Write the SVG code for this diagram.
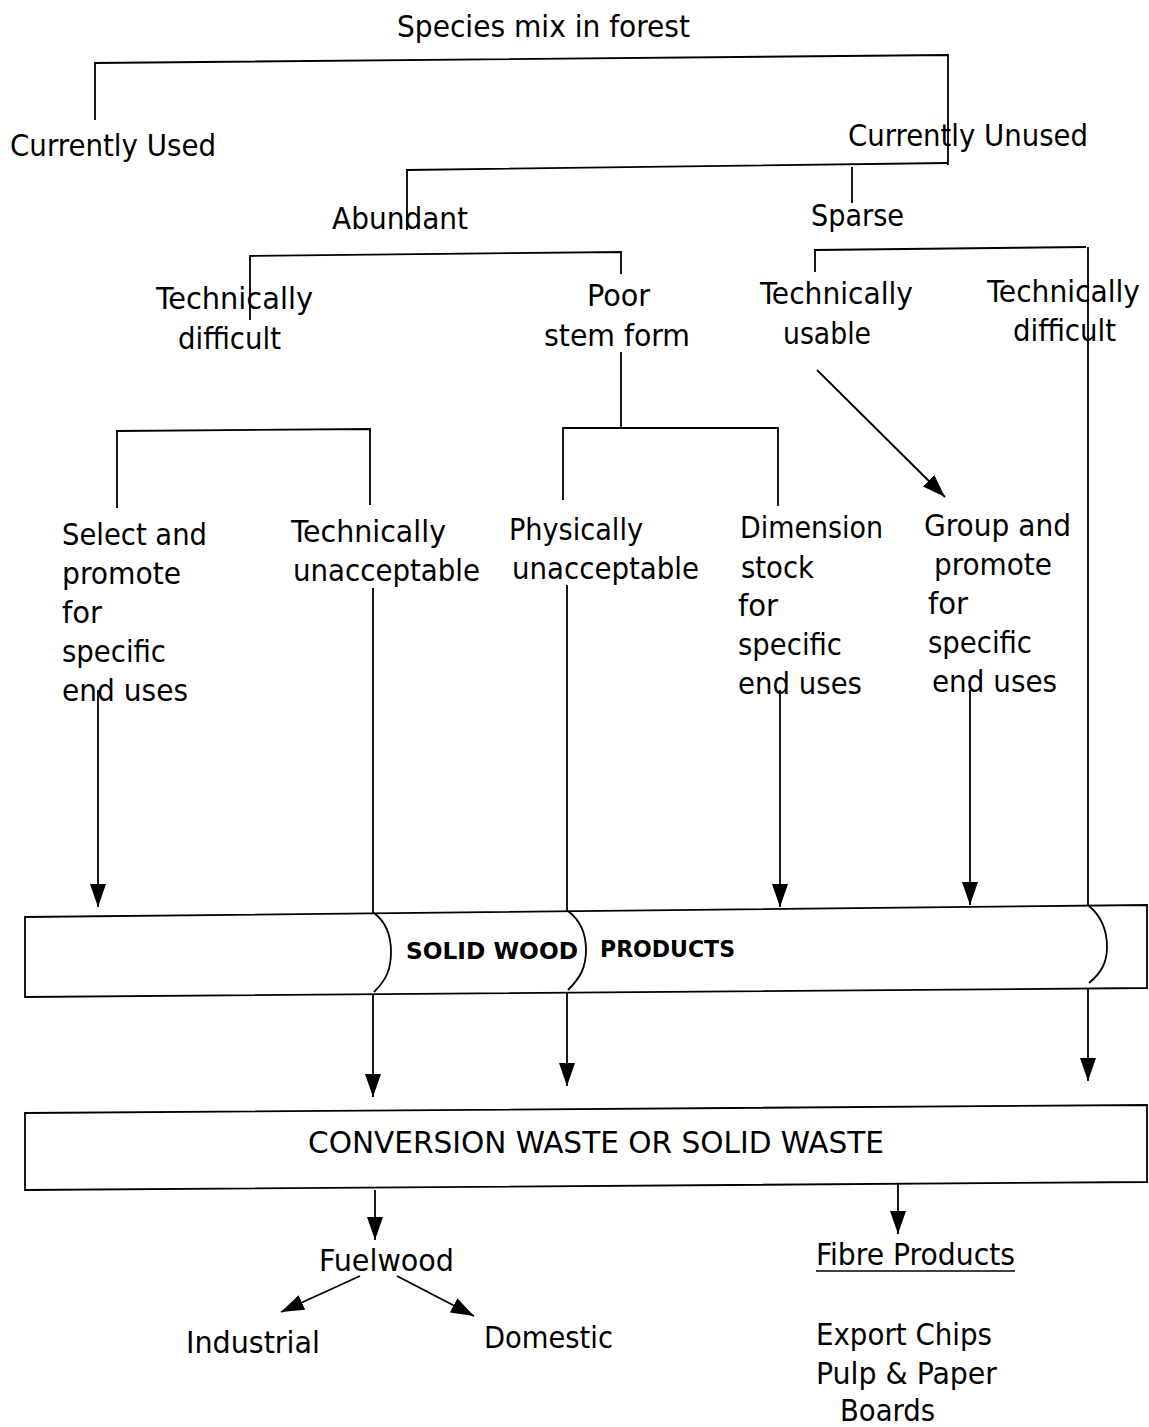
<svg xmlns="http://www.w3.org/2000/svg" width="1149" height="1427" viewBox="0 0 1149 1427">
<style>
text{font-family:"DejaVu Sans Condensed","DejaVu Sans",sans-serif;font-size:30px;fill:#000}
.b{font-weight:bold;font-size:23px}
.ln{stroke:#000;stroke-width:1.8;fill:none}
.box{stroke:#000;stroke-width:1.8;fill:#fff}
</style>
<defs>
<marker id="ah" viewBox="0 0 10 10" refX="10" refY="5" markerWidth="23" markerHeight="16" markerUnits="userSpaceOnUse" orient="auto" preserveAspectRatio="none">
<path d="M0,0 L10,5 L0,10 z" fill="#000"/>
</marker>
</defs>
<rect width="1149" height="1427" fill="#fff"/>

<g id="connectors">
<polyline class="ln" points="95,120 95,63 948,55 948,165"/>
<polyline class="ln" points="407,230 407,170 948,163"/>
<line class="ln" x1="852" y1="167" x2="852" y2="203"/>
<polyline class="ln" points="250,320 250,256 621,252 621,274"/>
<polyline class="ln" points="815,272 815,250 1086,247"/>
<line class="ln" x1="621" y1="352" x2="621" y2="428"/>
<polyline class="ln" points="563,500 563,428 778,428 778,506"/>
<polyline class="ln" points="117,508 117,431 370,429 370,505"/>
<line class="ln" x1="817" y1="370" x2="945" y2="497" marker-end="url(#ah)"/>
<line class="ln" x1="98" y1="690" x2="98" y2="907" marker-end="url(#ah)"/>
<line class="ln" x1="373" y1="588" x2="373" y2="1097" marker-end="url(#ah)"/>
<line class="ln" x1="567" y1="585" x2="567" y2="1086" marker-end="url(#ah)"/>
<line class="ln" x1="780" y1="690" x2="780" y2="907" marker-end="url(#ah)"/>
<line class="ln" x1="970" y1="690" x2="970" y2="905" marker-end="url(#ah)"/>
<line class="ln" x1="1088" y1="247" x2="1088" y2="1081" marker-end="url(#ah)"/>
<line class="ln" x1="375" y1="1190" x2="375" y2="1240" marker-end="url(#ah)"/>
<line class="ln" x1="898" y1="1182" x2="898" y2="1234" marker-end="url(#ah)"/>
<line class="ln" x1="360" y1="1276" x2="281" y2="1312" marker-end="url(#ah)"/>
<line class="ln" x1="397" y1="1276" x2="474" y2="1316" marker-end="url(#ah)"/>
</g>

<g id="species"><text x="397" y="37" textLength="293" lengthAdjust="spacingAndGlyphs">Species mix in forest</text></g>
<g id="used"><text x="10" y="156" textLength="206" lengthAdjust="spacingAndGlyphs">Currently Used</text></g>
<g id="unused"><text x="848" y="146" textLength="240" lengthAdjust="spacingAndGlyphs">Currently Unused</text></g>
<g id="abundant"><text x="332" y="229" textLength="136" lengthAdjust="spacingAndGlyphs">Abundant</text></g>
<g id="sparse"><text x="811" y="226" textLength="93" lengthAdjust="spacingAndGlyphs">Sparse</text></g>

<g id="techdiff1">
<text x="156" y="309" textLength="157" lengthAdjust="spacingAndGlyphs">Technically</text>
<text x="178" y="349" textLength="103" lengthAdjust="spacingAndGlyphs">difficult</text>
</g>
<g id="poor">
<text x="587" y="306" textLength="63" lengthAdjust="spacingAndGlyphs">Poor</text>
<text x="544" y="346" textLength="146" lengthAdjust="spacingAndGlyphs">stem form</text>
</g>
<g id="techusable">
<text x="760" y="304" textLength="153" lengthAdjust="spacingAndGlyphs">Technically</text>
<text x="783" y="344" textLength="88" lengthAdjust="spacingAndGlyphs">usable</text>
</g>
<g id="techdiff2">
<text x="987" y="302" textLength="153" lengthAdjust="spacingAndGlyphs">Technically</text>
<text x="1013" y="341" textLength="103" lengthAdjust="spacingAndGlyphs">difficult</text>
</g>

<g id="select">
<text x="62" y="545" textLength="145" lengthAdjust="spacingAndGlyphs">Select and</text>
<text x="62" y="584" textLength="119" lengthAdjust="spacingAndGlyphs">promote</text>
<text x="62" y="623" textLength="40" lengthAdjust="spacingAndGlyphs">for</text>
<text x="62" y="662" textLength="104" lengthAdjust="spacingAndGlyphs">specific</text>
<text x="62" y="701" textLength="126" lengthAdjust="spacingAndGlyphs">end uses</text>
</g>
<g id="techunacc">
<text x="291" y="542" textLength="155" lengthAdjust="spacingAndGlyphs">Technically</text>
<text x="293" y="581" textLength="187" lengthAdjust="spacingAndGlyphs">unacceptable</text>
</g>
<g id="physunacc">
<text x="509" y="540" textLength="134" lengthAdjust="spacingAndGlyphs">Physically</text>
<text x="512" y="579" textLength="187" lengthAdjust="spacingAndGlyphs">unacceptable</text>
</g>
<g id="dimension">
<text x="740" y="538" textLength="143" lengthAdjust="spacingAndGlyphs">Dimension</text>
<text x="741" y="578" textLength="73" lengthAdjust="spacingAndGlyphs">stock</text>
<text x="738" y="616" textLength="40" lengthAdjust="spacingAndGlyphs">for</text>
<text x="738" y="655" textLength="104" lengthAdjust="spacingAndGlyphs">specific</text>
<text x="738" y="694" textLength="124" lengthAdjust="spacingAndGlyphs">end uses</text>
</g>
<g id="group">
<text x="924" y="536" textLength="147" lengthAdjust="spacingAndGlyphs">Group and</text>
<text x="934" y="575" textLength="118" lengthAdjust="spacingAndGlyphs">promote</text>
<text x="928" y="614" textLength="40" lengthAdjust="spacingAndGlyphs">for</text>
<text x="928" y="653" textLength="104" lengthAdjust="spacingAndGlyphs">specific</text>
<text x="932" y="692" textLength="125" lengthAdjust="spacingAndGlyphs">end uses</text>
</g>

<g id="solidwood">
<polygon class="box" points="25,917 1147,905 1147,988 25,997"/>
<path class="ln" d="M374,913 C386,922 391,935 391,952 C391,970 386,980 374,992"/>
<path class="ln" d="M568,911 C580,920 586,932 586,950 C586,968 580,978 568,990"/>
<path class="ln" d="M1089,906 C1101,916 1107,930 1107,947 C1107,963 1101,973 1089,983"/>
<text class="b" x="406" y="959" textLength="172" lengthAdjust="spacingAndGlyphs">SOLID  WOOD</text>
<text class="b" x="600" y="957" textLength="135" lengthAdjust="spacingAndGlyphs">PRODUCTS</text>
</g>

<g id="conversion">
<polygon class="box" points="25,1113 1147,1105 1147,1182 25,1190"/>
<text x="308" y="1153" textLength="576" lengthAdjust="spacingAndGlyphs">CONVERSION WASTE OR SOLID WASTE</text>
</g>

<g id="fuelwood"><text x="319" y="1271" textLength="135" lengthAdjust="spacingAndGlyphs">Fuelwood</text></g>
<g id="industrial"><text x="186" y="1353" textLength="134" lengthAdjust="spacingAndGlyphs">Industrial</text></g>
<g id="domestic"><text x="484" y="1348" textLength="129" lengthAdjust="spacingAndGlyphs">Domestic</text></g>
<g id="fibre">
<text x="816" y="1265" textLength="199" lengthAdjust="spacingAndGlyphs">Fibre Products</text>
<line x1="816" y1="1271" x2="1015" y2="1271" stroke="#000" stroke-width="1.6"/>
</g>
<g id="fibrelist">
<text x="816" y="1345" textLength="176" lengthAdjust="spacingAndGlyphs">Export Chips</text>
<text x="816" y="1384" textLength="181" lengthAdjust="spacingAndGlyphs">Pulp &amp; Paper</text>
<text x="840" y="1421" textLength="95" lengthAdjust="spacingAndGlyphs">Boards</text>
</g>
</svg>
